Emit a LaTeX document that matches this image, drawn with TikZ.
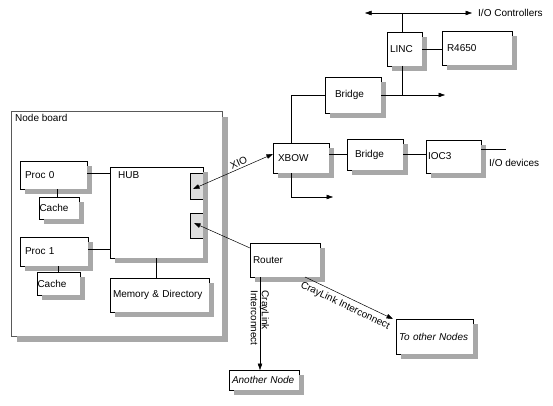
\documentclass[tikz,border=0pt]{standalone}
\usepackage{fontspec}
\setmainfont{Liberation Sans}
\usetikzlibrary{arrows.meta}
\newcommand\shl[5]{%
  \draw[black!34, line width=#5pt, line join=miter, line cap=butt]
    ({#1+#3+#5/2},{#2+#5}) -- ({#1+#3+#5/2},{#2+#4+#5/2}) -- ({#1+#5},{#2+#4+#5/2});}
\begin{document}
\begin{tikzpicture}[x=1pt,y=-1pt,
  font=\fontsize{10}{11}\selectfont,
  ln/.style={draw=black, line width=0.5pt},
  arr/.style={-{Triangle[length=6.5pt,width=4.5pt]}},
  arrb/.style={{Triangle[length=6.5pt,width=4.5pt]}-{Triangle[length=6.5pt,width=4.5pt]}},
  bx/.style n args={3}{draw=black, line width=0.6pt, fill=white,
    anchor=north west, minimum width=#1pt, minimum height=#2pt,
    inner xsep=#3pt, inner ysep=0pt, outer sep=0pt,
    text width=#1pt-2*#3pt, align=left},
  port/.style={draw=black, line width=0.5pt, fill=black!13, anchor=north west,
    minimum width=13pt, inner sep=0pt, outer sep=0pt}
]
\useasboundingbox (0,0) rectangle (553,406);

% node board
\node[draw=black!65, line width=0.6pt, fill=white, anchor=north west,
  minimum width=211pt, minimum height=225pt, inner sep=0pt, outer sep=0pt,
  label={[name=boardt, anchor=north west, inner sep=0pt, xshift=4pt, yshift=-3pt]north west:Node board}]
  (board) at (11,111) {};
\shl{11}{111}{211}{225}{6}

\node[bx={67}{28}{5}] (p0) at (20,161) {Proc 0};
\node[bx={40}{22}{0.5}] (c0) at (39,197) {Cache};
\node[bx={68}{29}{5}] (p1) at (20,237) {Proc 1};
\node[bx={43}{23}{0.5}] (c1) at (37,272) {Cache};
\node[bx={93}{91}{4}, label={[name=hubt, anchor=north west, inner sep=0pt, xshift=8pt, yshift=-4pt]north west:HUB}] (hub) at (110,167) {};
\node[port, minimum height=26pt] (port1) at (190,173) {};
\node[port, minimum height=25pt] (port2) at (190,213) {};
\node[bx={99}{34}{3}] (mem) at (110,278) {Memory \& Directory};

\node[bx={70}{34}{3}] (router) at (250,243) {Router};
\node[bx={70}{20}{3}, font=\fontsize{10}{11}\selectfont\itshape] (another) at (229,370) {Another Node};
\node[bx={77}{35}{3}, font=\fontsize{10}{11}\selectfont\itshape] (other) at (396,319) {To other Nodes};

\node[bx={56}{30}{5}] (xbow) at (273,143) {XBOW};
\node[bx={56}{36}{10}] (b1) at (325,77) {Bridge};
\node[bx={56}{31}{8}] (b2) at (347,139) {Bridge};
\node[bx={55}{33}{2}] (ioc3) at (426,140) {IOC3};
\node[bx={35}{34}{3}] (linc) at (387,32) {LINC};
\node[bx={70}{34}{5}] (r4650) at (442,31) {R4650};

% shadows (right and bottom bands)
\shl{20}{161}{67}{28}{5}
\shl{39}{197}{40}{22}{5}
\shl{20}{237}{68}{29}{5}
\shl{37}{272}{43}{23}{5}
\shl{110}{167}{93}{91}{5}
\shl{110}{278}{99}{34}{5}
\shl{250}{243}{70}{34}{5}
\shl{229}{370}{70}{20}{5}
\shl{396}{319}{77}{35}{5}
\shl{273}{143}{56}{30}{5}
\shl{325}{77}{56}{36}{5}
\shl{347}{139}{56}{31}{5}
\shl{426}{140}{55}{33}{5}
\shl{387}{32}{35}{34}{5}
\shl{442}{31}{70}{34}{5}

% coordinates for free ends
\coordinate (busL) at (365,13);
\coordinate (busR) at (472,13);
\coordinate (b1r) at (445,95);
\coordinate (xdn) at (333,197);
\coordinate (iodev) at (506,149);

% node board connectors
\draw[ln] ([yshift=2pt]p0.east) -- ([yshift=2pt]p0.east -| hub.west);
\draw[ln] ([yshift=2.5pt]p1.east) -- ([yshift=2.5pt]p1.east -| hub.west);
\draw[ln] ([xshift=-2pt]c0.north) -- ([xshift=-2pt]c0.north |- p0.south);
\draw[ln] (c1.north) -- (c1.north |- p1.south);
\draw[ln] (hub.south) -- (hub.south |- mem.north);

% XIO
\draw[ln,arrb] ([shift={(-3.5pt,-3pt)}]port1.center) -- ([yshift=4pt]xbow.west)
  node[pos=0.6, sloped, above, inner sep=2pt] (xio) {XIO};
% Router to hub
\draw[ln,arr] ([yshift=12pt]router.west) -- ([shift={(-2.5pt,2.5pt)}]port2.center);
% Router to another node
\draw[ln,arr] ([xshift=-25pt]router.south) -- ([xshift=-25pt]router.south |- another.north);
\node[rotate=-90, align=left, inner sep=0pt] (cl1) at (260,318) {CrayLink\\Interconnect};
% Router to other nodes
\draw[ln,arr] ([xshift=-15pt]router.south east) -- ([xshift=-3pt]other.north west)
  node[midway, sloped, below, inner sep=4pt] (cl2) {CrayLink Interconnect};

% XBOW side
\draw[ln] ([xshift=-10pt]xbow.north) |- (b1.west);
\draw[ln,arr] ([xshift=-10pt]xbow.south) |- (xdn);
\draw[ln] (b2.west -| xbow.east) -- (b2.west);
\draw[ln] (b2.east) -- (b2.east -| ioc3.west);
\draw[ln] ([yshift=7.5pt]ioc3.east) -- (iodev);
\node[anchor=west, inner sep=1pt] (iodevt) at (488,163) {I/O devices};

\draw[ln,arr] (b1.east) -- (b1r);
\draw[ln] ([xshift=-2pt]linc.south) -- ([xshift=-2pt]linc.south |- b1.east);
\draw[ln] ([xshift=-2pt]linc.north) -- ([xshift=-2pt]linc.north |- busL);
\draw[ln,arrb] (busL) -- (busR);
\node[anchor=west, inner sep=1pt] (ioctl) at (477,13) {I/O Controllers};
\draw[ln] (linc.east) -- (linc.east -| r4650.west);
\end{tikzpicture}
\end{document}
